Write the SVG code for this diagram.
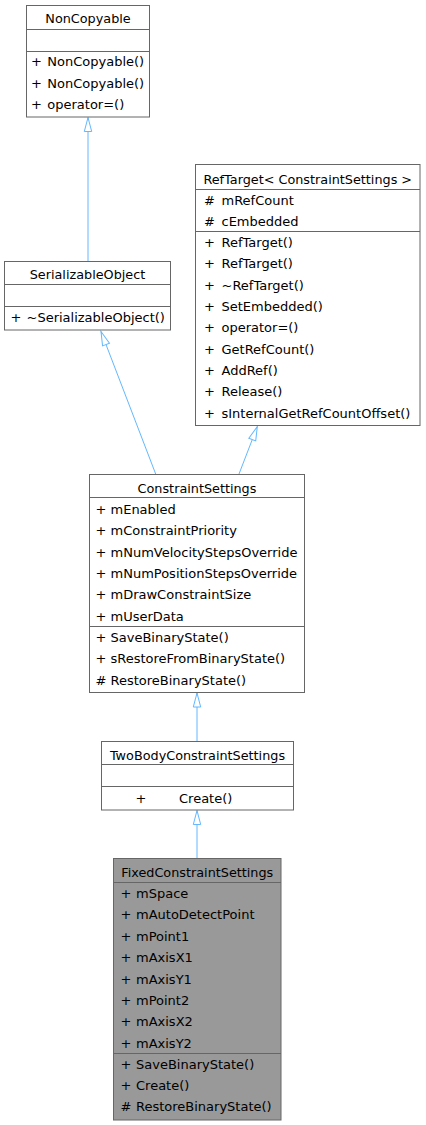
<svg xmlns="http://www.w3.org/2000/svg" width="426" height="1125" viewBox="0 0 426 1125">
<defs>
<style>
.box{fill:#ffffff;stroke:#666666;stroke-width:1}
.cur{fill:#999999;stroke:#666666;stroke-width:1}
.sep{stroke:#666666;stroke-width:1}
text{font-family:"DejaVu Sans","Noto Sans",sans-serif;font-size:13px;fill:#000000}
.h{text-anchor:middle;font-size:12.8px}
.edge{fill:none;stroke:#63b8ff;stroke-width:1;marker-end:url(#inh)}
</style>
<marker id="inh" markerUnits="userSpaceOnUse" markerWidth="20" markerHeight="12" refX="15" refY="5" orient="auto">
<path d="M1,1.3 L15,5 L1,8.7 Z" fill="#ffffff" stroke="#63b8ff" stroke-width="1"/>
</marker>
</defs>
<g id="connectors">
<path class="edge" d="M88,261 L88,117.5"/>
<path class="edge" d="M155.7,474 L101,331.5"/>
<path class="edge" d="M239,474 L257.3,426.5"/>
<path class="edge" d="M197,741.5 L197,693"/>
<path class="edge" d="M197,858.5 L197,810.5"/>
</g>
<g id="NonCopyable">
<rect class="box" x="26.5" y="5.5" width="123" height="111.5"/>
<line class="sep" x1="26.5" y1="29.5" x2="149.5" y2="29.5"/>
<line class="sep" x1="26.5" y1="51.5" x2="149.5" y2="51.5"/>
<text class="h" x="88" y="23">NonCopyable</text>
<text x="31" y="66.2">+</text><text x="47.3" y="66.2">NonCopyable()</text>
<text x="31" y="87.5">+</text><text x="47.3" y="87.5">NonCopyable()</text>
<text x="31" y="108.8">+</text><text x="47.3" y="108.8">operator=()</text>
</g>
<g id="SerializableObject">
<rect class="box" x="4.5" y="261.5" width="166" height="68.5"/>
<line class="sep" x1="4.5" y1="284.5" x2="170.5" y2="284.5"/>
<line class="sep" x1="4.5" y1="306.5" x2="170.5" y2="306.5"/>
<text class="h" x="87.5" y="279">SerializableObject</text>
<text x="10.5" y="322">+</text><text x="26.5" y="322">~SerializableObject()</text>
</g>
<g id="RefTarget">
<rect class="box" x="195.5" y="164.5" width="224.5" height="261"/>
<line class="sep" x1="195.5" y1="189.5" x2="420" y2="189.5"/>
<line class="sep" x1="195.5" y1="231.5" x2="420" y2="231.5"/>
<text class="h" x="307.75" y="184">RefTarget&lt; ConstraintSettings &gt;</text>
<text x="204" y="205">#</text><text x="221.5" y="205">mRefCount</text>
<text x="204" y="226">#</text><text x="221.5" y="226">cEmbedded</text>
<text x="204" y="246.8">+</text><text x="221.5" y="246.8">RefTarget()</text>
<text x="204" y="268.2">+</text><text x="221.5" y="268.2">RefTarget()</text>
<text x="204" y="289.5">+</text><text x="221.5" y="289.5">~RefTarget()</text>
<text x="204" y="310.9">+</text><text x="221.5" y="310.9">SetEmbedded()</text>
<text x="204" y="332.2">+</text><text x="221.5" y="332.2">operator=()</text>
<text x="204" y="353.6">+</text><text x="221.5" y="353.6">GetRefCount()</text>
<text x="204" y="374.9">+</text><text x="221.5" y="374.9">AddRef()</text>
<text x="204" y="396.3">+</text><text x="221.5" y="396.3">Release()</text>
<text x="204" y="417.6">+</text><text x="221.5" y="417.6">sInternalGetRefCountOffset()</text>
</g>
<g id="ConstraintSettings">
<rect class="box" x="89.5" y="474.5" width="215" height="218"/>
<line class="sep" x1="89.5" y1="497.5" x2="304.5" y2="497.5"/>
<line class="sep" x1="89.5" y1="626.5" x2="304.5" y2="626.5"/>
<text class="h" x="197" y="493">ConstraintSettings</text>
<text x="95.5" y="514">+</text><text x="110.5" y="514">mEnabled</text>
<text x="95.5" y="535.3">+</text><text x="110.5" y="535.3">mConstraintPriority</text>
<text x="95.5" y="556.6">+</text><text x="110.5" y="556.6">mNumVelocityStepsOverride</text>
<text x="95.5" y="577.9">+</text><text x="110.5" y="577.9">mNumPositionStepsOverride</text>
<text x="95.5" y="599.2">+</text><text x="110.5" y="599.2">mDrawConstraintSize</text>
<text x="95.5" y="620.5">+</text><text x="110.5" y="620.5">mUserData</text>
<text x="95.5" y="642">+</text><text x="110.5" y="642">SaveBinaryState()</text>
<text x="95.5" y="663.3">+</text><text x="110.5" y="663.3">sRestoreFromBinaryState()</text>
<text x="95.5" y="684.6">#</text><text x="110.5" y="684.6">RestoreBinaryState()</text>
</g>
<g id="TwoBodyConstraintSettings">
<rect class="box" x="101.5" y="741.5" width="192" height="68.5"/>
<line class="sep" x1="101.5" y1="764.5" x2="293.5" y2="764.5"/>
<line class="sep" x1="101.5" y1="786.5" x2="293.5" y2="786.5"/>
<text class="h" x="197.5" y="759.5">TwoBodyConstraintSettings</text>
<text x="135.5" y="803">+</text><text x="179" y="803">Create()</text>
</g>
<g id="FixedConstraintSettings">
<rect class="cur" x="113.5" y="858.5" width="167.5" height="261.5"/>
<line class="sep" x1="113.5" y1="882.5" x2="281" y2="882.5"/>
<line class="sep" x1="113.5" y1="1053.5" x2="281" y2="1053.5"/>
<text class="h" x="197.25" y="877">FixedConstraintSettings</text>
<text x="120.5" y="898">+</text><text x="136" y="898">mSpace</text>
<text x="120.5" y="919.4">+</text><text x="136" y="919.4">mAutoDetectPoint</text>
<text x="120.5" y="940.8">+</text><text x="136" y="940.8">mPoint1</text>
<text x="120.5" y="962.2">+</text><text x="136" y="962.2">mAxisX1</text>
<text x="120.5" y="983.6">+</text><text x="136" y="983.6">mAxisY1</text>
<text x="120.5" y="1005">+</text><text x="136" y="1005">mPoint2</text>
<text x="120.5" y="1026.4">+</text><text x="136" y="1026.4">mAxisX2</text>
<text x="120.5" y="1047.8">+</text><text x="136" y="1047.8">mAxisY2</text>
<text x="120.5" y="1068.5">+</text><text x="136" y="1068.5">SaveBinaryState()</text>
<text x="120.5" y="1089.9">+</text><text x="136" y="1089.9">Create()</text>
<text x="120.5" y="1111.3">#</text><text x="136" y="1111.3">RestoreBinaryState()</text>
</g>
</svg>
